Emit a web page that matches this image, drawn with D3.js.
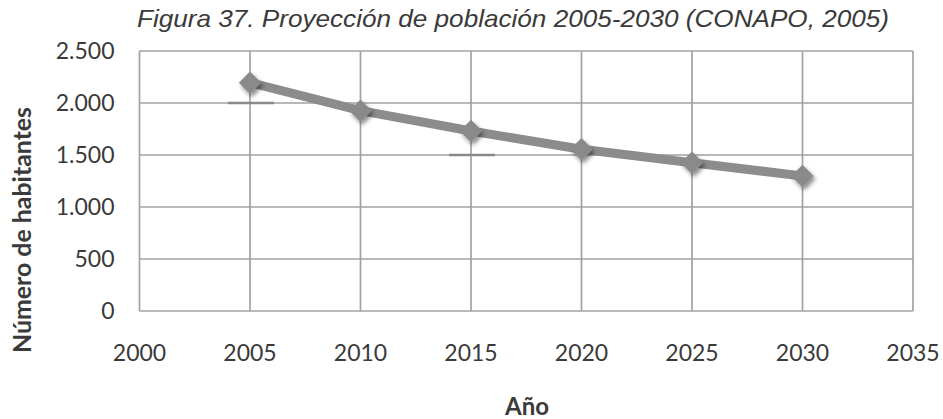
<!DOCTYPE html>
<html>
<head>
<meta charset="utf-8">
<script src="https://cdn.jsdelivr.net/npm/d3@7"></script>
<style>
  body { margin: 0; background: #fff; }
  svg { display: block; }
</style>
</head>
<body>
<svg id="chart" width="943" height="419"></svg>
<script>
// data
const years = [2005, 2010, 2015, 2020, 2025, 2030];
const habitantes = [2195, 1926, 1731, 1555, 1426, 1298];
const xTicks = [2000, 2005, 2010, 2015, 2020, 2025, 2030, 2035];
const yTicks = [0, 500, 1000, 1500, 2000, 2500];
// darker grid stubs visible behind two markers
const stubYears = [2005, 2015];
const stubValues = [2000, 1500];

const title = "Figura 37. Proyección de población 2005-2030 (CONAPO, 2005)";

const svg = d3.select("#chart");
const margin = { top: 51, right: 30, bottom: 108, left: 139.5 };
const width = +svg.attr("width");
const height = +svg.attr("height");

const x = d3.scaleLinear().domain([2000, 2035]).range([margin.left, width - margin.right]);
const y = d3.scaleLinear().domain([0, 2500]).range([height - margin.bottom, margin.top]);

const fmt = d3.formatLocale({ decimal: ",", thousands: ".", grouping: [3], currency: ["", ""] }).format(",d");

const defs = svg.append("defs");
const shadow = defs.append("filter").attr("id", "shadow")
  .attr("x", "-50%").attr("y", "-50%").attr("width", "200%").attr("height", "200%");
shadow.append("feDropShadow")
  .attr("dx", 2).attr("dy", 3).attr("stdDeviation", 2)
  .attr("flood-color", "#000").attr("flood-opacity", 0.45);

// grid
const grid = svg.append("g").attr("stroke", "#a2a2a2").attr("stroke-width", 1.7);
grid.selectAll("line.h")
  .data(yTicks)
  .join("line")
  .attr("class", "h")
  .attr("x1", x.range()[0]).attr("x2", x.range()[1])
  .attr("y1", d => y(d)).attr("y2", d => y(d));
grid.selectAll("line.v")
  .data(xTicks)
  .join("line")
  .attr("class", "v")
  .attr("x1", d => x(d)).attr("x2", d => x(d))
  .attr("y1", y.range()[0]).attr("y2", y.range()[1]);

svg.append("g")
  .selectAll("line")
  .data(stubYears)
  .join("line")
  .attr("x1", d => x(d) - 22).attr("x2", d => x(d) + 24)
  .attr("y1", (d, i) => y(stubValues[i])).attr("y2", (d, i) => y(stubValues[i]))
  .attr("stroke", "#8a8a8a").attr("stroke-width", 2.5);

const label = sel => sel
  .style("font-family", "Lato, sans-serif")
  .style("font-size", "23px")
  .attr("fill", "#3a3a3a");

// y tick labels
svg.append("g")
  .selectAll("text")
  .data(yTicks)
  .join("text")
  .attr("x", margin.left - 25)
  .attr("y", d => y(d))
  .attr("dy", "0.36em")
  .attr("text-anchor", "end")
  .call(label)
  .text(d => fmt(d));

// x tick labels
svg.append("g")
  .selectAll("text")
  .data(xTicks)
  .join("text")
  .attr("x", d => x(d))
  .attr("y", y(0) + 42)
  .attr("dy", "0.36em")
  .attr("text-anchor", "middle")
  .call(label)
  .text(d => d);

// line + markers
const pts = years.map((yr, i) => [yr, habitantes[i]]);
const line = d3.line().x(d => x(d[0])).y(d => y(d[1]));

svg.append("path")
  .datum(pts)
  .attr("d", line)
  .attr("fill", "none")
  .attr("stroke", "#8c8c8c")
  .attr("stroke-width", 9)
  .attr("stroke-linejoin", "round");

const diamond = d3.symbol().type(d3.symbolDiamond2).size(320);
svg.append("g")
  .selectAll("path")
  .data(pts)
  .join("path")
  .attr("transform", d => `translate(${x(d[0])},${y(d[1])})`)
  .attr("d", diamond)
  .attr("fill", "#8a8a8a")
  .attr("filter", "url(#shadow)");

// titles
svg.append("text")
  .attr("x", 513).attr("y", 27)
  .attr("text-anchor", "middle")
  .attr("textLength", 752)
  .attr("lengthAdjust", "spacingAndGlyphs")
  .style("font-family", "'Liberation Sans', Arial, sans-serif")
  .style("font-style", "italic")
  .style("font-size", "24px")
  .attr("fill", "#3a3a3a")
  .text(title);

svg.append("text")
  .attr("x", 527).attr("y", 406)
  .attr("dy", "0.36em")
  .attr("text-anchor", "middle")
  .style("font-family", "Lato, sans-serif")
  .style("font-weight", 700)
  .style("font-size", "24px")
  .attr("fill", "#3a3a3a")
  .text("Año");

svg.append("text")
  .attr("transform", "translate(22,230) rotate(-90)")
  .attr("dy", "0.36em")
  .attr("text-anchor", "middle")
  .attr("textLength", 246)
  .attr("lengthAdjust", "spacingAndGlyphs")
  .style("font-family", "Lato, sans-serif")
  .style("font-weight", 700)
  .style("font-size", "24px")
  .attr("fill", "#3a3a3a")
  .text("Número de habitantes");
</script>
</body>
</html>
